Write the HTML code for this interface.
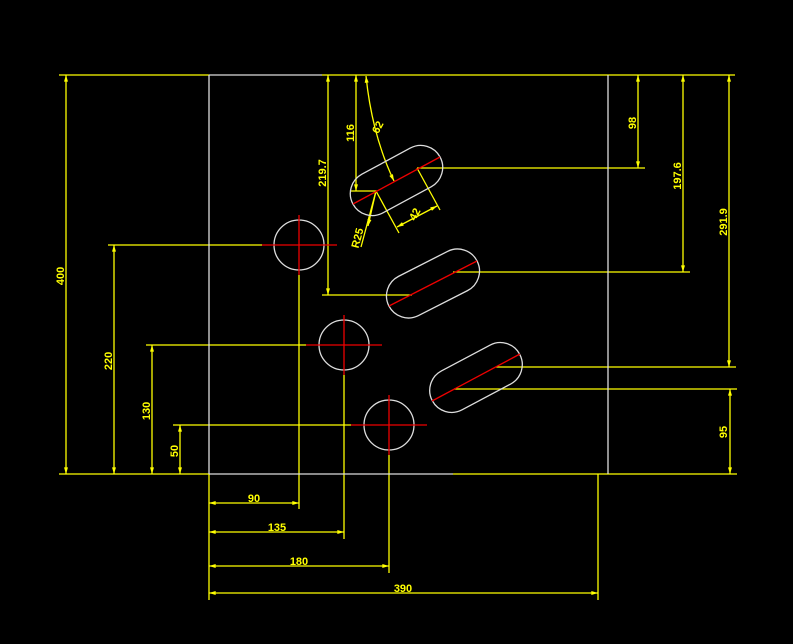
<!DOCTYPE html>
<html><head><meta charset="utf-8"><style>
html,body{margin:0;padding:0;background:#000;}
svg{display:block}
text{font-family:"Liberation Sans Narrow","Liberation Sans",sans-serif;font-size:11px;fill:#ff0;font-weight:bold}
</style></head><body>
<svg width="793" height="644" viewBox="0 0 793 644" xmlns="http://www.w3.org/2000/svg">
<defs>
<marker id="a" viewBox="0 0 10 6" refX="10" refY="3" markerWidth="8" markerHeight="4" orient="auto-start-reverse" markerUnits="userSpaceOnUse"><path d="M0,0L10,3L0,6z" fill="#ff0"/></marker>
</defs>
<g stroke="#ff0" stroke-width="1.3" fill="none">
<!-- top & bottom lines -->
<line x1="59" y1="75" x2="209" y2="75"/>
<line x1="322" y1="75" x2="735" y2="75"/>
<line x1="59" y1="474" x2="209" y2="474"/>
<line x1="453" y1="474" x2="737" y2="474"/>
<!-- left dims -->
<line x1="66" y1="75" x2="66" y2="474" marker-start="url(#a)" marker-end="url(#a)"/>
<line x1="108" y1="245" x2="262" y2="245"/>
<line x1="114" y1="245" x2="114" y2="474" marker-start="url(#a)" marker-end="url(#a)"/>
<line x1="146" y1="345" x2="306" y2="345"/>
<line x1="152" y1="345" x2="152" y2="474" marker-start="url(#a)" marker-end="url(#a)"/>
<line x1="173" y1="425" x2="351" y2="425"/>
<line x1="180" y1="425" x2="180" y2="474" marker-start="url(#a)" marker-end="url(#a)"/>
<!-- verticals from circles -->
<line x1="299" y1="275" x2="299" y2="509"/>
<line x1="344" y1="375" x2="344" y2="539"/>
<line x1="389" y1="455" x2="389" y2="573"/>
<line x1="598" y1="474" x2="598" y2="600"/>
<line x1="209" y1="474" x2="209" y2="600"/>
<!-- bottom dims -->
<line x1="209" y1="503" x2="299" y2="503" marker-start="url(#a)" marker-end="url(#a)"/>
<line x1="209" y1="532" x2="344" y2="532" marker-start="url(#a)" marker-end="url(#a)"/>
<line x1="209" y1="566" x2="389" y2="566" marker-start="url(#a)" marker-end="url(#a)"/>
<line x1="209" y1="593" x2="598" y2="593" marker-start="url(#a)" marker-end="url(#a)"/>
<!-- right dims -->
<line x1="417" y1="168" x2="645" y2="168"/>
<line x1="638" y1="75" x2="638" y2="168" marker-start="url(#a)" marker-end="url(#a)"/>
<line x1="453" y1="272" x2="690" y2="272"/>
<line x1="683" y1="75" x2="683" y2="272" marker-start="url(#a)" marker-end="url(#a)"/>
<line x1="496" y1="367" x2="736" y2="367"/>
<line x1="729" y1="75" x2="729" y2="367" marker-start="url(#a)" marker-end="url(#a)"/>
<line x1="454" y1="389" x2="737" y2="389"/>
<line x1="730" y1="389" x2="730" y2="474" marker-start="url(#a)" marker-end="url(#a)"/>
<!-- top-left dims -->
<line x1="322" y1="295" x2="412" y2="295"/>
<line x1="328" y1="75" x2="328" y2="295" marker-start="url(#a)" marker-end="url(#a)"/>
<line x1="350" y1="191" x2="377" y2="191"/>
<line x1="356" y1="75" x2="356" y2="191" marker-start="url(#a)" marker-end="url(#a)"/>
<path d="M366,76 Q372,135 394,181" marker-start="url(#a)" marker-end="url(#a)"/>
<line x1="376" y1="191" x2="361" y2="247"/>
<line x1="376" y1="191" x2="368" y2="226" marker-end="url(#a)"/>
<line x1="376" y1="191" x2="399" y2="233"/>
<line x1="417" y1="168" x2="440" y2="210"/>
<line x1="397" y1="227" x2="437" y2="206" marker-start="url(#a)" marker-end="url(#a)"/>
</g>
<!-- white outline -->
<g stroke="#ddd" stroke-width="1.3" fill="none">
<line x1="209" y1="75" x2="322" y2="75"/>
<line x1="209" y1="474" x2="453" y2="474"/>
<line x1="209" y1="75" x2="209" y2="474"/>
<line x1="608" y1="75" x2="608" y2="474"/>
<circle cx="299" cy="245" r="25"/>
<circle cx="344" cy="345" r="25"/>
<circle cx="389" cy="425" r="25"/>
<rect x="-49.5" y="-22" width="99" height="44" rx="22" transform="translate(396.5,180.5) rotate(-28.4)"/>
<rect x="-49.5" y="-22" width="99" height="44" rx="22" transform="translate(433,283.5) rotate(-27)"/>
<rect x="-49.5" y="-22" width="99" height="44" rx="22" transform="translate(476,377.5) rotate(-28)"/>
</g>
<!-- red center lines -->
<g stroke="#e00" stroke-width="1.3">
<line x1="262" y1="245" x2="337" y2="245"/><line x1="299" y1="215" x2="299" y2="275"/>
<line x1="306" y1="345" x2="382" y2="345"/><line x1="344" y1="315" x2="344" y2="375"/>
<line x1="351" y1="425" x2="427" y2="425"/><line x1="389" y1="395" x2="389" y2="455"/>
<line x1="353" y1="204" x2="440" y2="157"/>
<line x1="389" y1="306" x2="477" y2="261"/>
<line x1="432" y1="401" x2="520" y2="354"/>
</g>
<!-- labels -->
<g>
<text transform="translate(64,276) rotate(-90)" text-anchor="middle">400</text>
<text transform="translate(112,361) rotate(-90)" text-anchor="middle">220</text>
<text transform="translate(150,411) rotate(-90)" text-anchor="middle">130</text>
<text transform="translate(178,451) rotate(-90)" text-anchor="middle">50</text>
<text x="254" y="502" text-anchor="middle">90</text>
<text x="277" y="531" text-anchor="middle">135</text>
<text x="299" y="565" text-anchor="middle">180</text>
<text x="403" y="592" text-anchor="middle">390</text>
<text transform="translate(636,123) rotate(-90)" text-anchor="middle">98</text>
<text transform="translate(681,176) rotate(-90)" text-anchor="middle">197.6</text>
<text transform="translate(727,222) rotate(-90)" text-anchor="middle">291.9</text>
<text transform="translate(727,432) rotate(-90)" text-anchor="middle">95</text>
<text transform="translate(326,173) rotate(-90)" text-anchor="middle">219.7</text>
<text transform="translate(354,133) rotate(-90)" text-anchor="middle">116</text>
<text transform="translate(381,129) rotate(-62)" text-anchor="middle">62</text>
<text transform="translate(361,239) rotate(-75)" text-anchor="middle">R25</text>
<text transform="translate(418,216) rotate(-62)" text-anchor="middle">42</text>
</g>
</svg>
</body></html>
